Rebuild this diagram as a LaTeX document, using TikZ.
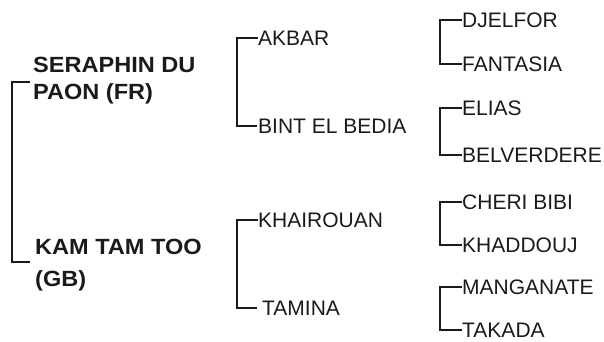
\documentclass[tikz,border=0pt]{standalone}
\usepackage{fontspec}
\setmainfont{Liberation Sans}
\newfontfamily\boldwide[FakeStretch=1.07]{Liberation Sans Bold}
\definecolor{ink}{HTML}{1A1A1A}
\begin{document}
\begin{tikzpicture}[x=1pt,y=-1pt,
  link/.style={draw=ink,line width=2pt},
  horse/.style={inner sep=0pt,anchor=west,text=ink,font=\fontsize{21}{25}\selectfont,text height=15pt,text depth=0pt},
  root/.style={inner sep=0pt,anchor=north west,text=ink,align=left}]
\useasboundingbox (0,0) rectangle (604,342);
% level 1
\node[root,font=\boldwide\fontsize{22}{26.5}\selectfont] (seraphin) at (33,57) {SERAPHIN DU\\PAON (FR)};
\node[root,font=\boldwide\fontsize{22}{32}\selectfont] (kam) at (35,239) {KAM TAM TOO\\(GB)};
\coordinate (s1) at (30,82);
\coordinate (s2) at (30,262);
\draw[link] (s1) -- ++(-18,0) |- (s2);
% level 2
\node[horse] (akbar) at (258,38) {AKBAR};
\node[horse] (bint) at (258,126) {BINT EL BEDIA};
\node[horse] (khairouan) at (258,220) {KHAIROUAN};
\node[horse] (tamina) at (262,308) {TAMINA};
\draw[link] (akbar.west) -- ++(-21,0) |- ([xshift=-1pt]bint.west);
\draw[link] (khairouan.west) -- ++(-21,0) |- ([xshift=-5pt]tamina.west);
% level 3
\node[horse] (djelfor) at (462,20) {DJELFOR};
\node[horse] (fantasia) at (462,64) {FANTASIA};
\node[horse] (elias) at (462,108) {ELIAS};
\node[horse] (belverdere) at (462,155) {BELVERDERE};
\node[horse] (cheri) at (462,202) {CHERI BIBI};
\node[horse] (khaddouj) at (462,245) {KHADDOUJ};
\node[horse] (manganate) at (462,287) {MANGANATE};
\node[horse] (takada) at (462,330) {TAKADA};
\draw[link] (djelfor.west) -- ++(-22,0) |- (fantasia.west);
\draw[link] (elias.west) -- ++(-22,0) |- (belverdere.west);
\draw[link] (cheri.west) -- ++(-22,0) |- (khaddouj.west);
\draw[link] (manganate.west) -- ++(-22,0) |- (takada.west);
\end{tikzpicture}
\end{document}
